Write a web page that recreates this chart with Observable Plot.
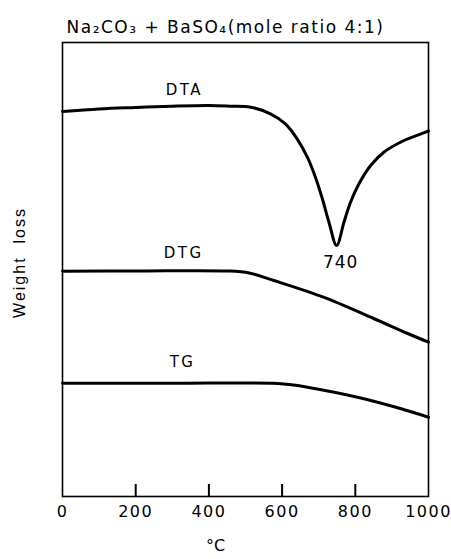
<!DOCTYPE html>
<html>
<head>
<meta charset="utf-8">
<script src="https://cdn.jsdelivr.net/npm/d3@7"></script>
<script src="https://cdn.jsdelivr.net/npm/@observablehq/plot@0.6"></script>
<style>
  html, body { margin: 0; padding: 0; background: #fff; }
</style>
</head>
<body>
<div id="chart"></div>
<script>
// Temperature (°C) and curve heights (arbitrary units, weight-loss axis)
const dtaT = [0, 100, 200, 300, 400, 459, 514, 568, 609, 641, 669, 691, 710, 728, 749, 769, 787, 810, 842, 878, 933, 992, 1000];
const dtaV = [385, 387.5, 389, 390.3, 391, 390.3, 389.3, 382.7, 372.7, 357.7, 339.3, 319.3, 297.7, 274.3, 251, 274.3, 294.3, 312.7, 331, 344.3, 356, 364.3, 365.5];

const dtgT = [0, 200, 450, 510, 577, 713, 850, 943, 1000];
const dtgV = [225.3, 225.5, 225.5, 223.5, 216, 199.3, 178, 163, 154.3];

const tgT = [0, 300, 576, 620, 669, 806, 923, 1000];
const tgV = [113.3, 113.3, 113.3, 112, 109.3, 99.3, 88, 79.3];

const curveNames = ["DTA", "DTG", "TG"];
const labelT = [333, 331, 328];
const labelV = [406, 243, 134];

const peakLabel = "740";
const peakT = 760;
const peakV = 234;

const xTicks = [0, 200, 400, 600, 800, 1000];
const xTickLabels = ["0", "200", "400", "600", "800", "1000"];
const title = "Na\u2082CO\u2083 + BaSO\u2084(mole ratio 4:1)";
const yLabel = "Weight  loss";
const xLabel = "°C";

const toRows = (ts, vs, name) => ts.map((t, i) => ({t, v: vs[i], name}));
const rows = [
  ...toRows(dtaT, dtaV, "DTA"),
  ...toRows(dtgT, dtgV, "DTG"),
  ...toRows(tgT, tgV, "TG")
];
const labels = curveNames.map((n, i) => ({name: n, t: labelT[i], v: labelV[i]}));
const innerTicks = xTicks.slice(1, -1);

const chart = Plot.plot({
  width: 451,
  height: 559,
  marginLeft: 62,
  marginRight: 23,
  marginTop: 42,
  marginBottom: 63,
  style: {fontFamily: "DejaVu Sans, sans-serif", fontSize: "15px", color: "#000", background: "#fff", overflow: "visible"},
  x: {domain: [0, 1000], label: null},
  y: {domain: [0, 454], axis: null},
  marks: [
    Plot.frame({stroke: "#000", strokeWidth: 1.6}),
    Plot.ruleX(innerTicks, {x: d => d, y1: 0, y2: 12, stroke: "#000", strokeWidth: 2}),
    Plot.axisX(xTicks, {tickSize: 0, tickPadding: 9, fontSize: 16, tickFormat: d => xTickLabels[xTicks.indexOf(d)]}),
    Plot.line(rows, {x: "t", y: "v", z: "name", stroke: "#000", strokeWidth: 3, curve: "catmull-rom"}),
    Plot.text(labels, {x: "t", y: "v", text: "name", fontSize: 15}),
    Plot.text([peakLabel], {x: peakT, y: peakV, text: d => d, fontSize: 17}),
    Plot.text([title], {frameAnchor: "top", textAnchor: "middle", dx: -20, dy: -22, text: d => d, fontSize: 17}),
    Plot.text([yLabel], {frameAnchor: "left", textAnchor: "middle", dx: -43, dy: -7, rotate: -90, text: d => d, fontSize: 16, fontFamily: "Liberation Sans, sans-serif"}),
    Plot.text([xLabel], {frameAnchor: "bottom", textAnchor: "middle", dx: -30, dy: 54, text: d => d, fontSize: 16})
  ]
});
const svg = d3.select(chart);
svg.selectAll("[aria-label='x-axis tick label'] text").style("letter-spacing", "1.5px");
svg.selectAll("g[aria-label='text']").each(function(d, i) {
  const spacing = ["2.5px", "1px", "1.5px", "2px", "0px"][i];
  d3.select(this).style("letter-spacing", spacing);
});
document.getElementById("chart").appendChild(chart);
</script>
</body>
</html>
